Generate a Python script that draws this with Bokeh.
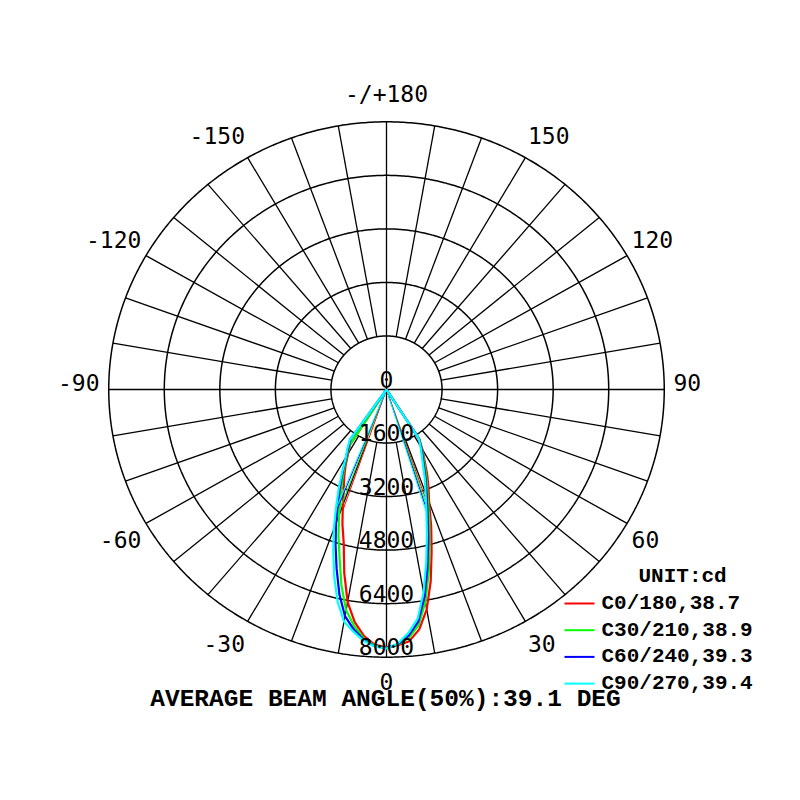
import numpy as np
from bokeh.plotting import figure
from bokeh.models import Range1d
from bokeh.core.properties import value
from bokeh.embed import file_html
from bokeh.resources import INLINE

# ---------------- data ----------------
ANGLES = [0, 2.5, 5, 7.5, 10, 12.5, 15, 17.5, 20, 22.5, 25, 27.5, 30, 32.5, 35, 37.5, 40]

# right half (C0, C30, C60, C90) and left half (C180, C210, C240, C270), cd
C0   = [7700, 7650, 7550, 7230, 6670, 5880, 5020, 4280, 3590, 3160, 2760, 2360, 2070, 1770, 0, 0, 0]
C180 = [7700, 7640, 7400, 7010, 6450, 5620, 4760, 4220, 3680, 3220, 2880, 2550, 2210, 1950, 0, 0, 0]
C30  = [7720, 7630, 7450, 7100, 6450, 5620, 4800, 4100, 3470, 3050, 2650, 2300, 2020, 1750, 0, 0, 0]
C210 = [7720, 7660, 7470, 7130, 6700, 6000, 5220, 4600, 4000, 3450, 3020, 2640, 2270, 2000, 0, 0, 0]
C60  = [7730, 7620, 7380, 7000, 6300, 5450, 4650, 3950, 3380, 2960, 2560, 2250, 1990, 1730, 0, 0, 0]
C240 = [7730, 7680, 7510, 7230, 6880, 6270, 5550, 4880, 4250, 3650, 3150, 2710, 2310, 2050, 1800, 0, 0]
C90  = [7740, 7600, 7300, 6900, 6150, 5290, 4500, 3830, 3290, 2890, 2490, 2200, 1960, 1720, 0, 0, 0]
C270 = [7740, 7690, 7540, 7300, 7040, 6500, 5810, 5100, 4440, 3790, 3250, 2750, 2340, 2100, 1850, 0, 0]

PLANE_NAMES = ["C0/180", "C30/210", "C60/240", "C90/270"]
BEAM_ANGLES = [38.7, 38.9, 39.3, 39.4]
RIGHT_HALVES = [C0, C30, C60, C90]
LEFT_HALVES = [C180, C210, C240, C270]
COLORS = ["#ff0000", "#00ff00", "#0000ff", "#00ffff"]

RING_VALUES = [0, 1600, 3200, 4800, 6400, 8000]
SPOKE_STEP = 10
ANGLE_TICKS = [0, 30, 60, 90, 120, 150, 180, -150, -120, -90, -60, -30]
ANGLE_LABELS = ["0", "30", "60", "90", "120", "150", "-/+180", "-150", "-120", "-90", "-60", "-30"]
UNIT = "cd"

# ---------------- layout (pixels) ----------------
W, H = 784, 784
CX, CY = 386.0, 389.0          # centre in canvas px (from top-left)
SX, SY = 0.03472, 0.03346      # px per cd horizontally / vertically
LABEL_PX_UP = 283
LABEL_PX_LOW = 283
LABEL_PX_SIDE = 287
SIDE_LABEL_RAISE = -1          # px
RING_LABEL_DROP = -2           # px below ring for the text bottom

def px2x(px):
    return (px - CX) / SX

def py2y(py):
    return (CY - py) / SY

p = figure(width=W, height=H, output_backend="svg", toolbar_location=None,
           x_range=Range1d(px2x(0), px2x(W)), y_range=Range1d(py2y(H), py2y(0)),
           x_axis_location=None, y_axis_location=None, min_border=0,
           background_fill_color="white", border_fill_color="white")
p.outline_line_color = None
p.grid.visible = False

rmax = RING_VALUES[-1]
r1 = RING_VALUES[1]

# rings
t = np.radians(np.linspace(0, 360, 721))
for r in RING_VALUES[1:]:
    p.line(r * np.sin(t), -r * np.cos(t), line_color="black", line_width=1.5)

# spokes
xs, ys = [], []
for a in range(0, 360, SPOKE_STEP):
    ar = np.radians(a)
    r_in = 0 if a % 90 == 0 else r1
    xs.append([r_in * np.sin(ar), rmax * np.sin(ar)])
    ys.append([-r_in * np.cos(ar), -rmax * np.cos(ar)])
p.multi_line(xs, ys, line_color="black", line_width=1.3)

# curves
ang = np.radians(np.array(ANGLES))
for right, left, col in zip(RIGHT_HALVES, LEFT_HALVES, COLORS):
    R = np.array(right, float)
    L = np.array(left, float)
    x = np.concatenate([(-L * np.sin(ang))[::-1], R * np.sin(ang)])
    y = np.concatenate([(-L * np.cos(ang))[::-1], -R * np.cos(ang)])
    # half-intensity lines
    for half, sgn in ((R, 1), (L, -1)):
        h = half.max() / 2
        nz = half > 0
        a_half = np.interp(h, half[nz][::-1], np.array(ANGLES)[nz][::-1])
        arh = np.radians(a_half)
        p.line([0, sgn * h * np.sin(arh)], [0, -h * np.cos(arh)], line_color=col, line_width=1)
    p.line(x, y, line_color=col, line_width=2.2, line_join="round")

# ring labels
p.text(x=[0] * len(RING_VALUES), y=[-r - RING_LABEL_DROP / SY for r in RING_VALUES],
       text=[str(r) for r in RING_VALUES],
       text_align="center", text_baseline="bottom", text_font=value("DejaVu Sans Mono"),
       text_font_size="23px", text_color="black")

# angle labels
for a, lab in zip(ANGLE_TICKS, ANGLE_LABELS):
    ar = np.radians(a)
    s, c = np.sin(ar), np.cos(ar)
    align = "left" if s > 0.01 else ("right" if s < -0.01 else "center")
    if abs(c) <= 0.01:
        base = "bottom"
        xx = LABEL_PX_SIDE / SX * s
        yy = SIDE_LABEL_RAISE / SY
    elif c > 0:
        base = "top"
        xx = LABEL_PX_LOW / SX * s
        yy = -LABEL_PX_LOW / SY * c
    else:
        base = "bottom"
        xx = LABEL_PX_UP / SX * s
        yy = -LABEL_PX_UP / SY * c
    p.text(x=[xx], y=[yy], text=[lab], text_align=align,
           text_baseline=base, text_font=value("DejaVu Sans Mono"), text_font_size="23px",
           text_color="black")

# legend
LEG_X0, LEG_X1, LEG_TX = 564, 594, 601
LEG_Y0, LEG_DY = 603, 26.7
p.text(x=[px2x(638)], y=[py2y(576)], text=["UNIT:" + UNIT], text_align="left", text_baseline="middle",
       text_font=value("Liberation Mono"), text_font_style="bold", text_font_size="21px", text_color="black")
for i, (name, beam, col) in enumerate(zip(PLANE_NAMES, BEAM_ANGLES, COLORS)):
    yy = py2y(LEG_Y0 + i * LEG_DY)
    p.line([px2x(LEG_X0), px2x(LEG_X1)], [yy, yy], line_color=col, line_width=2)
    p.text(x=[px2x(LEG_TX)], y=[yy], text=[f"{name},{beam}"], text_align="left", text_baseline="middle",
           text_font=value("Liberation Mono"), text_font_style="bold", text_font_size="21px",
           text_color="black")

avg = np.mean(BEAM_ANGLES)
p.text(x=[px2x(385)], y=[py2y(699)], text=[f"AVERAGE BEAM ANGLE(50%):{avg:.1f} DEG"],
       text_align="center", text_baseline="middle", text_font=value("Liberation Mono"),
       text_font_style="bold", text_font_size="24.5px", text_color="black")

open("out.html", "w").write(file_html(p, INLINE))
